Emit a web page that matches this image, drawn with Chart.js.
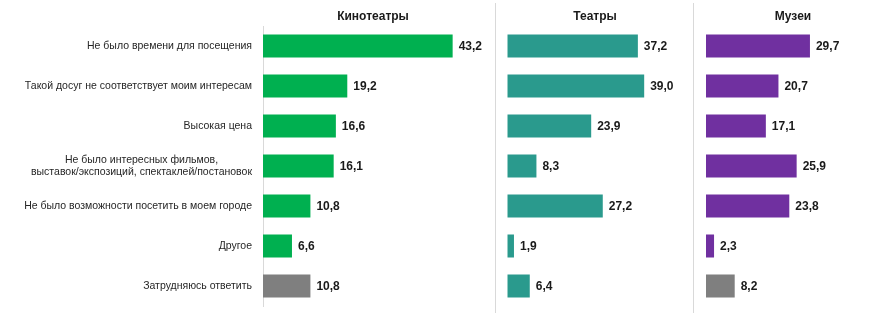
<!DOCTYPE html>
<html><head><meta charset="utf-8">
<script src="https://cdn.jsdelivr.net/npm/chart.js@4"></script>
<style>
body{margin:0;background:#fff;width:873px;height:328px;overflow:hidden;position:relative}
canvas{position:absolute;top:0}
.sep{position:absolute;top:3px;height:310px;width:1px;background:#d9d9d9}
</style></head><body>
<canvas id="c1" width="495" height="328" style="left:0"></canvas>
<canvas id="c2" width="198" height="328" style="left:495px"></canvas>
<canvas id="c3" width="180" height="328" style="left:693px"></canvas>
<div class="sep" style="left:495px"></div>
<div class="sep" style="left:693px"></div>
<script>
const categories = [
  "Не было времени для посещения",
  "Такой досуг не соответствует моим интересам",
  "Высокая цена",
  ["Не было интересных фильмов,", "выставок/экспозиций, спектаклей/постановок"],
  "Не было возможности посетить в моем городе",
  "Другое",
  "Затрудняюсь ответить"
];
const titles = ["Кинотеатры", "Театры", "Музеи"];
const cinema = [43.2, 19.2, 16.6, 16.1, 10.8, 6.6, 10.8];
const theatre = [37.2, 39.0, 23.9, 8.3, 27.2, 1.9, 6.4];
const museum = [29.7, 20.7, 17.1, 25.9, 23.8, 2.3, 8.2];

const FONT = "'Liberation Sans', Arial, sans-serif";
const GREEN = '#00B050', TEAL = '#2A9A8D', PURPLE = '#7030A0', GRAY = '#7F7F7F';

const deco = {
  id: 'deco',
  afterDraw(chart, args, o) {
    const ctx = chart.ctx;
    const xs = chart.scales.x, ys = chart.scales.y;
    const ds = chart.data.datasets[0];
    ctx.save();
    ctx.font = 'bold 12px ' + FONT;
    ctx.fillStyle = '#1a1a1a';
    ctx.textAlign = 'center';
    ctx.textBaseline = 'middle';
    ctx.fillText(o.title, o.titleX, 17);
    ds.data.forEach((v, i) => {
      const x = xs.getPixelForValue(v) + 6;
      const y = ys.getPixelForValue(i);
      ctx.textAlign = 'left';
      ctx.fillText(v.toFixed(1).replace('.', ','), x, y + 0.5);
    });
    if (o.labels) {
      ctx.font = '10.5px ' + FONT;
      ctx.fillStyle = '#262626';
      chart.data.labels.forEach((lab, i) => {
        const lines = Array.isArray(lab) ? lab : [lab];
        const widths = lines.map(l => ctx.measureText(l).width);
        const maxW = Math.max(...widths);
        const right = 252;
        const cx = right - maxW / 2;
        const y0 = ys.getPixelForValue(i) - (lines.length - 1) * 12.7 / 2;
        ctx.textAlign = 'center';
        lines.forEach((l, k) => ctx.fillText(l, cx, y0 + k * 12.7));
      });
    }
    ctx.restore();
  }
};

function makeChart(id, values, colors, opts) {
  return new Chart(document.getElementById(id), {
    type: 'bar',
    data: {
      labels: categories,
      datasets: [{
        data: values,
        backgroundColor: colors,
        borderWidth: 0,
        categoryPercentage: 1,
        barPercentage: 0.57
      }]
    },
    options: {
      indexAxis: 'y',
      responsive: false,
      animation: false,
      layout: { padding: { top: 26, bottom: 22, left: opts.padLeft, right: opts.padRight } },
      scales: {
        x: { display: false, min: 0, max: opts.max },
        y: opts.yAxis ? {
          display: true,
          ticks: { display: false },
          grid: { display: false },
          border: { display: true, color: '#d9d9d9', width: 1 },
          afterFit: s => { s.width = opts.yWidth; }
        } : { display: false }
      },
      plugins: {
        legend: { display: false },
        tooltip: { enabled: false },
        deco: { title: opts.title, titleX: opts.titleX, labels: opts.yAxis }
      }
    },
    plugins: [deco]
  });
}

makeChart('c1', cinema, cinema.map((v, i) => i === 6 ? GRAY : GREEN),
  { max: 50, padLeft: 0, padRight: 12.5, yAxis: true, yWidth: 263, title: titles[0], titleX: 373 });
makeChart('c2', theatre, theatre.map(() => TEAL),
  { max: 50, padLeft: 12.3, padRight: 10.2, yAxis: false, title: titles[1], titleX: 100 });
makeChart('c3', museum, museum.map((v, i) => i === 6 ? GRAY : PURPLE),
  { max: 45, padLeft: 13, padRight: 9.5, yAxis: false, title: titles[2], titleX: 100 });
</script>
</body></html>
